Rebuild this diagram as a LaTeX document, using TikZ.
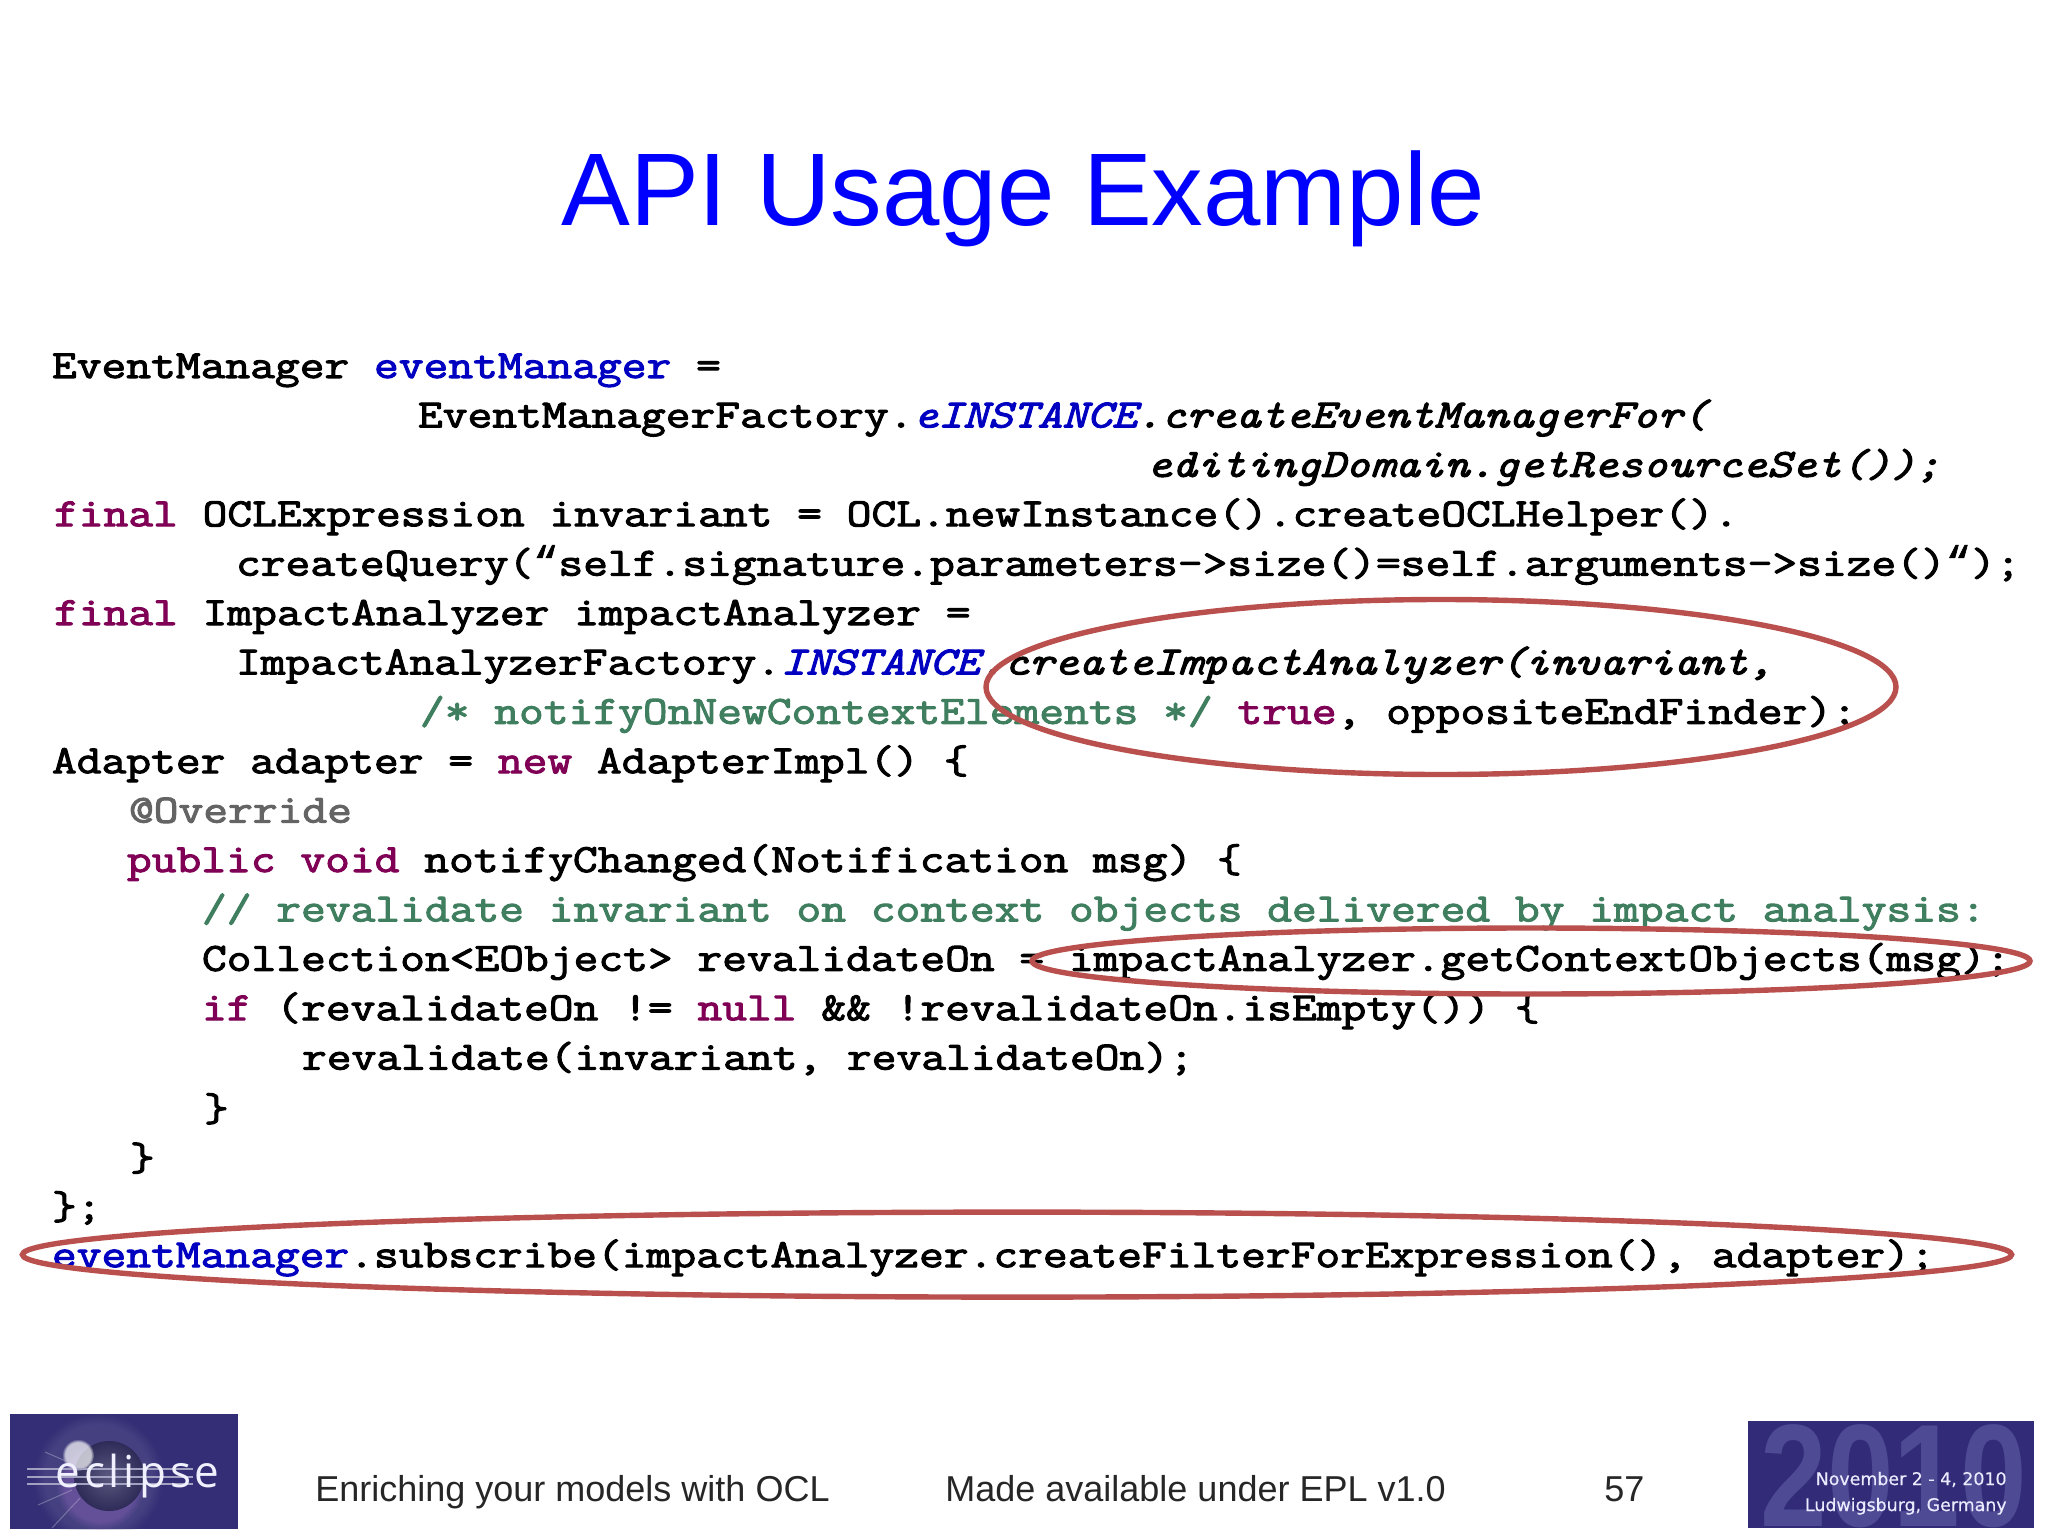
\documentclass[tikz,border=0pt]{standalone}
\usepackage{fontspec}
\usetikzlibrary{shapes.geometric,fadings}
\setmainfont{Liberation Sans}
\newfontfamily\code[FakeBold=2.6,FakeStretch=1.2026]{Latin Modern Mono}
\newfontfamily\codeit[FakeBold=2.6,FakeStretch=1.181]{Latin Modern Mono}
\newfontfamily\qfont[FakeBold=1.5]{Liberation Mono}
\newfontfamily\logofont[FakeBold=0.4]{DejaVu Sans}
\newfontfamily\eclfont[LetterSpace=9]{Open Sans}
\definecolor{kw}{HTML}{7F0055}
\definecolor{fld}{HTML}{0000C0}
\definecolor{cmt}{HTML}{3F7F5F}
\definecolor{ann}{HTML}{646464}
\definecolor{ring}{HTML}{B9504E}
\definecolor{logoA}{HTML}{332E75}
\definecolor{logoB}{HTML}{322C78}
\definecolor{logoC}{HTML}{4F4A94}
\definecolor{orbIn}{HTML}{5A5A80}
\definecolor{orbOut}{HTML}{2E2B58}
\definecolor{rim}{HTML}{8A62B8}
\newcommand{\K}[1]{\textcolor{kw}{#1}}
\newcommand{\F}[1]{\textcolor{fld}{#1}}
\newcommand{\IT}[1]{{\codeit\itshape #1}}
\newcommand{\FI}[1]{\textcolor{fld}{\IT{#1}}}
\newcommand{\CM}[1]{\textcolor{cmt}{#1}}
\newcommand{\QL}{{\qfont\fontsize{21}{24}\selectfont “}}
\tikzset{
  codeline/.style={anchor=base west,inner sep=0pt,outer sep=0pt,font=\code\fontsize{20}{24}\selectfont},
  titletext/.style={anchor=base,inner sep=0pt,text=blue,font=\fontsize{51.6}{60}\selectfont},
  foot/.style={anchor=base west,inner sep=0pt,text=black!85,font=\fontsize{18}{21}\selectfont},
  hoop/.style={ellipse,draw=ring,line width=2.7pt,inner sep=0pt,fill=none},
  logotext/.style={anchor=base east,inner sep=0pt,text=white!92!blue,font=\logofont\fontsize{8.7}{10}\selectfont},
}
\begin{document}
\begin{tikzpicture}[x=0.5pt,y=-0.5pt]
\useasboundingbox (0,0) rectangle (2048,1535);
\fill[white] (0,0) rectangle (2048,1535);
\node[titletext] (title) at (1023,226) {API Usage Example};

\node[codeline] (l1) at (52,378) {EventManager \F{eventManager} =};
\node[codeline] (l2) at (418,427.4) {EventManagerFactory.\FI{eINSTANCE}\IT{.createEventManagerFor(}};
\node[codeline] (l3) at (1147,476.8) {\IT{editingDomain.getResourceSet());}};
\node[codeline] (l4) at (54,526.2) {\K{final} OCLExpression invariant = OCL.newInstance().createOCLHelper().};
\node[codeline] (l5) at (236,575.6) {createQuery(\QL self.signature.parameters->size()=self.arguments->size()\QL);};
\node[codeline] (l6) at (54,625) {\K{final} ImpactAnalyzer impactAnalyzer =};
\node[codeline] (l7) at (236,674.4) {ImpactAnalyzerFactory.\FI{INSTANCE}\IT{.createImpactAnalyzer(invariant,}};
\node[codeline] (l8) at (420,723.8) {\CM{/* notifyOnNewContextElements */} \K{true}, oppositeEndFinder);};
\node[codeline] (l9) at (52,773.2) {Adapter adapter = \K{new} AdapterImpl() \{};
\node[codeline] (l10) at (129,822.6) {\textcolor{ann}{@Override}};
\node[codeline] (l11) at (127,872) {\K{public} \K{void} notifyChanged(Notification msg) \{};
\node[codeline] (l12) at (202,921.4) {\CM{// revalidate invariant on context objects delivered by impact analysis:}};
\node[codeline] (l13) at (202,970.8) {Collection<EObject> revalidateOn = impactAnalyzer.getContextObjects(msg);};
\node[codeline] (l14) at (202,1020.2) {\K{if} (revalidateOn != \K{null} \&\& !revalidateOn.isEmpty()) \{};
\node[codeline] (l15) at (302,1069.6) {revalidate(invariant, revalidateOn);};
\node[codeline] (l16) at (204,1121) {\}};
\node[codeline] (l17) at (130,1170.4) {\}};
\node[codeline] (l18) at (52,1219) {\};};
\node[codeline] (l19) at (52,1267.2) {\F{eventManager}.subscribe(impactAnalyzer.createFilterForExpression(), adapter);};

\node[hoop,minimum width=455pt,minimum height=87.5pt] (hoopA) at (1441,687) {};
\node[hoop,minimum width=499pt,minimum height=33pt] (hoopB) at (1531,961) {};
\node[hoop,minimum width=994.6pt,minimum height=42.5pt] (hoopC) at (1017,1254.6) {};

\node[foot] (f1) at (315,1501) {Enriching your models with OCL};
\node[foot] (f2) at (945,1501) {Made available under EPL v1.0};
\node[foot] (f3) at (1604,1501) {57};

% eclipse logo
\fill[logoA] (10,1414) rectangle (238,1529);
\begin{scope}
\clip (10,1414) rectangle (238,1529);
\fill[white!30!logoA,path fading=circle with fuzzy edge 20 percent,opacity=.3] (98,1478) circle (66);
\fill[rim,path fading=circle with fuzzy edge 20 percent,opacity=.45] (100,1486) circle (44);
\shade[inner color=orbIn,outer color=orbOut] (109,1476) circle (35);
\fill[white,path fading=circle with fuzzy edge 20 percent,opacity=.7] (78,1455) circle (16);
\draw[white!70!logoA,line width=.5pt,opacity=.4] (45,1452) -- (68,1462) (38,1505) -- (72,1490) (52,1528) -- (80,1498);
\end{scope}
\draw[white!55!logoA,line width=1pt] (27,1469) -- (193,1469) (27,1477) -- (193,1477) (27,1484) -- (193,1484);
\node[anchor=base west,inner sep=0pt,text=white!94!blue,font=\eclfont\fontsize{22}{24}\selectfont] (eclipseword) at (55,1487) {eclipse};

% conference logo
\fill[logoB] (1748,1421) rectangle (2034,1528);
\begin{scope}
\clip (1748,1421) rectangle (2034,1528);
\node[anchor=base,inner sep=0pt,text=logoC,font=\fontsize{73}{80}\bfseries\selectfont,xscale=.82] (bigyear) at (1894,1526) {2010};
\end{scope}
\node[logotext] (conf1) at (2007,1485) {November 2 - 4, 2010};
\node[logotext] (conf2) at (2007,1511) {Ludwigsburg, Germany};

\end{tikzpicture}
\end{document}
